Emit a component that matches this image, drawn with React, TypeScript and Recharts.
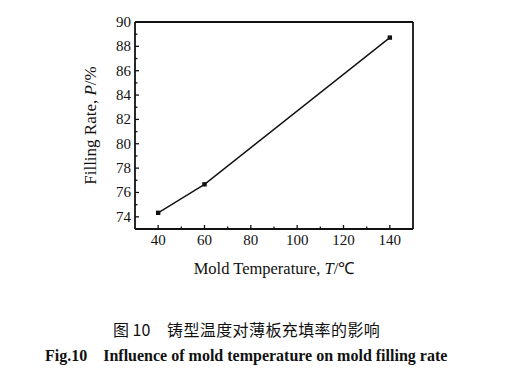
import { LineChart, Line, XAxis, YAxis, ReferenceLine } from 'recharts';

const temperatures = [40, 60, 140];
const fillingRates = [74.33, 76.67, 88.72];

const xTicks = [40, 50, 60, 70, 80, 90, 100, 110, 120, 130, 140];
const xLabeled = [40, 60, 80, 100, 120, 140];
const yTicks = [74, 75, 76, 77, 78, 79, 80, 81, 82, 83, 84, 85, 86, 87, 88, 89, 90];
const yLabeled = [74, 76, 78, 80, 82, 84, 86, 88, 90];

const data = temperatures.map((t, i) => ({ t, p: fillingRates[i] }));

const serif = '"Liberation Serif", "Times New Roman", serif';

function XTick(props: any) {
  const { x, y, payload } = props;
  const major = xLabeled.includes(payload.value);
  return (
    <g>
      <line x1={x} x2={x} y1={y} y2={y - (major ? 4 : 2.5)} stroke="#111" strokeWidth={1.3} />
      {major && (
        <text x={x} y={y + 16} textAnchor="middle" fontFamily={serif} fontSize={15} fill="#111">
          {payload.value}
        </text>
      )}
    </g>
  );
}

function YTick(props: any) {
  const { x, y, payload } = props;
  const major = yLabeled.includes(payload.value);
  return (
    <g>
      <line x1={x} x2={x + (major ? 4 : 2.5)} y1={y} y2={y} stroke="#111" strokeWidth={1.3} />
      {major && (
        <text x={x - 4} y={y + 5} textAnchor="end" fontFamily={serif} fontSize={15} fill="#111">
          {payload.value}
        </text>
      )}
    </g>
  );
}

function SquareDot(props: any) {
  const { cx, cy } = props;
  return <rect x={cx - 2.2} y={cy - 2.2} width={4.4} height={4.4} fill="#111" />;
}

export default function App() {
  return (
    <div style={{ position: 'absolute', left: 0, top: 0, width: 509, height: 389, background: '#fff' }}>
      <LineChart
        width={509}
        height={389}
        data={data}
        margin={{ top: 22, right: 96, bottom: 130, left: 95 }}
      >
        <XAxis
          dataKey="t"
          type="number"
          domain={[30, 150]}
          ticks={xTicks}
          interval={0}
          height={30}
          tickSize={0}
          tickMargin={0}
          tick={<XTick />}
          axisLine={{ stroke: '#111', strokeWidth: 1.8 }}
          label={{
            content: (p: any) => {
              const vb = p.viewBox;
              return (
                <text x={vb.x + vb.width / 2} y={vb.y + 45} textAnchor="middle" fontFamily={serif} fontSize={16.5} fill="#111">
                  Mold Temperature, <tspan fontStyle="italic">T</tspan>/℃
                </text>
              );
            },
          }}
        />
        <YAxis
          type="number"
          domain={[73, 90]}
          ticks={yTicks}
          interval={0}
          width={40}
          tickSize={0}
          tickMargin={0}
          tick={<YTick />}
          axisLine={{ stroke: '#111', strokeWidth: 1.8 }}
          label={{
            content: (p: any) => {
              const vb = p.viewBox;
              const cx = vb.x - 5;
              const cy = vb.y + vb.height / 2;
              return (
                <text
                  x={cx}
                  y={cy}
                  transform={`rotate(-90 ${cx} ${cy})`}
                  textAnchor="middle"
                  dominantBaseline="central"
                  fontFamily={serif}
                  fontSize={17}
                  fill="#111"
                >
                  Filling Rate, <tspan fontStyle="italic">P</tspan>/%
                </text>
              );
            },
          }}
        />
        <ReferenceLine y={90} stroke="#111" strokeWidth={1.8} />
        <ReferenceLine x={150} stroke="#111" strokeWidth={1.8} />
        <Line
          type="linear"
          dataKey="p"
          stroke="#111"
          strokeWidth={1.4}
          dot={<SquareDot />}
          activeDot={false}
          isAnimationActive={false}
        />
      </LineChart>
      <div
        style={{
          position: 'absolute',
          left: 113,
          top: 317,
          fontFamily: '"Noto Sans CJK SC", sans-serif',
          fontSize: 16,
          color: '#111',
          whiteSpace: 'pre',
        }}
      >
        {'图 10'}
      </div>
      <div
        style={{
          position: 'absolute',
          left: 167,
          top: 317,
          fontFamily: '"Noto Sans CJK SC", sans-serif',
          fontSize: 16,
          color: '#111',
          letterSpacing: 0.4,
          whiteSpace: 'pre',
        }}
      >
        {'铸型温度对薄板充填率的影响'}
      </div>
      <div
        style={{
          position: 'absolute',
          left: 45,
          top: 347,
          fontFamily: serif,
          fontWeight: 'bold',
          fontSize: 16,
          color: '#111',
          whiteSpace: 'pre',
        }}
      >
        {'Fig.10    Influence of mold temperature on mold filling rate'}
      </div>
    </div>
  );
}
